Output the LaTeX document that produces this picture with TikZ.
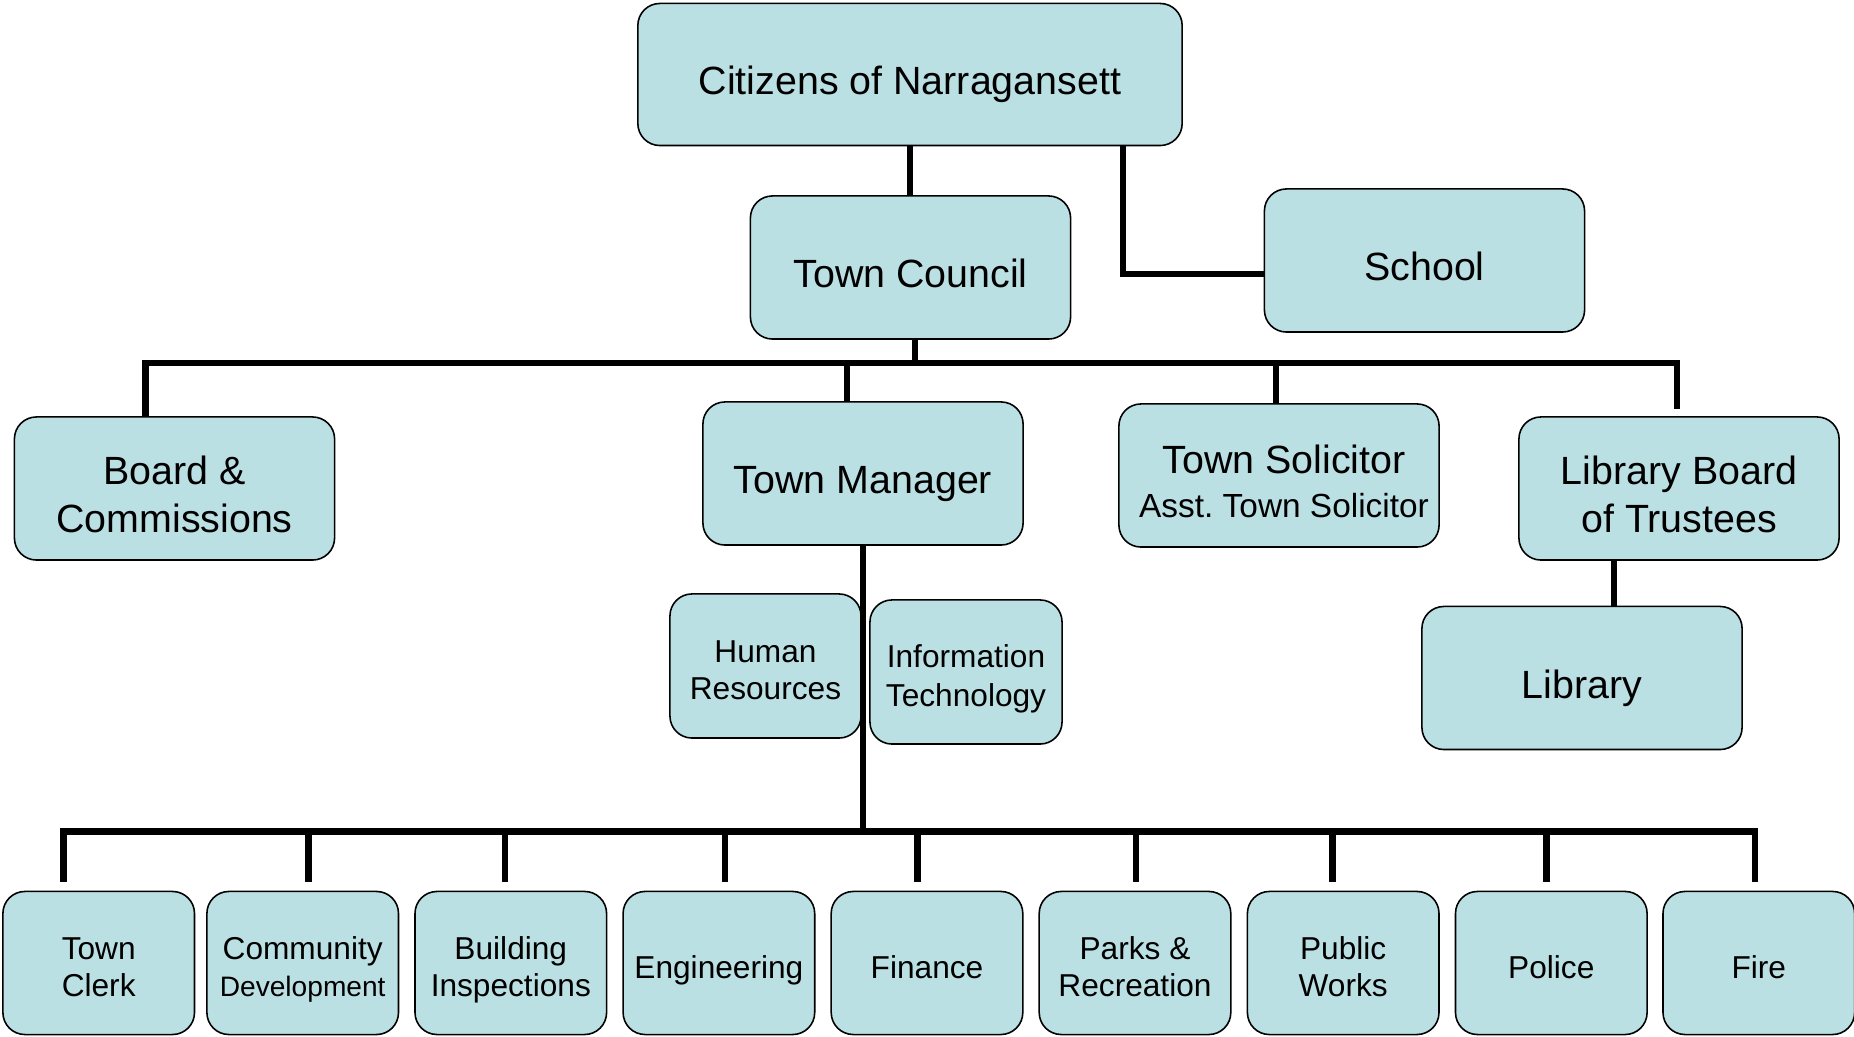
\documentclass[tikz,border=0pt]{standalone}
\usepackage{fontspec}
\setmainfont{Liberation Sans}
\usetikzlibrary{calc}

\definecolor{boxfill}{RGB}{187,224,227}

% struts: first and last line of a box text
\newcommand\topB{\rule{0pt}{13.9pt}}
\newcommand\botB{\rule[-2.5pt]{0pt}{2.5pt}}
\newcommand\topS{\rule{0pt}{10.6pt}}
\newcommand\botS{\rule[-2pt]{0pt}{2pt}}

\tikzset{
  unit/.style={draw, fill=boxfill, rounded corners=0.22cm, line width=0.45pt,
    align=center, inner sep=0pt},
  big/.style={unit, minimum width=3.2cm, minimum height=1.43cm,
    font=\fontsize{11.2}{13.7}\selectfont},
  dept/.style={unit, minimum width=1.915cm, minimum height=1.43cm,
    font=\fontsize{9}{10.6}\selectfont},
  link/.style={line width=0.065cm}
}

\begin{document}
\begin{tikzpicture}[x=0.01cm,y=-0.01cm]
  \useasboundingbox (0,0) rectangle (1854,1037);

  % top of the chart
  \node[big, minimum width=5.44cm, minimum height=1.42cm] (citizens) at (910,74.5) {\topB Citizens of Narragansett\botB};
  \node[big] (council) at (910.5,267.5) {\topB Town Council\botB};
  \node[big] (school) at (1424.5,260.5) {\topB School\botB};

  % second row
  \node[big] (boards) at (174.5,488.5) {\topB Board \&\\Commissions\botB};
  \node[big] (manager) at (863,473.5) {\topB Town Manager\botB};
  \node[big] (solicitor) at (1279,475.5) {\topB\hspace*{0.1cm}Town Solicitor\\[-1.3pt]{\fontsize{9.5}{12}\selectfont\hspace*{0.1cm}Asst.\ Town Solicitor}\botB};
  \node[big] (trustees) at (1679,488.5) {\topB Library Board\\of Trustees\botB};
  \node[big] (library) at (1582,678) {\topB Library\botB};

  % staff of the manager
  \node[dept, minimum width=1.91cm, minimum height=1.44cm] (hr) at (765.5,666) {\topS Human\\Resources\botS};
  \node[dept, minimum width=1.92cm, minimum height=1.44cm] (it) at (966,672) {\topS Information\\[0.4pt]Technology\botS};

  % departments
  \foreach \x/\name/\txt in {98.7/clerk/Town\\Clerk,
      302.7/community/Community\\{\fontsize{8}{10.6}\selectfont Development},
      510.8/building/Building\\Inspections, 718.9/engineering/Engineering,
      927/finance/Finance, 1135/parks/Parks \&\\Recreation,
      1343.2/works/Public\\Works, 1551.3/police/Police, 1758.8/fire/Fire}
    \node[dept] (\name) at (\x,963) {\topS\txt\botS};

  \coordinate (lowbus) at (0,832.5);

  % connectors
  \draw[link] (citizens.south) -- (citizens.south |- council.north);
  \draw[link] ($(citizens.south)+(213,0)$) |- ($(school.west)+(0,13.5)$);
  \draw[link] ($(council.south)+(4.5,0)$) -- ++(0,25);

  \draw[link] ($(boards.north)+(-29,0)$) -- ($(boards.north)+(-29,-53)$)
    -- ($(trustees.north)+(-2,-53)$) -- ($(trustees.north)+(-2,-7)$);
  \draw[link] ($(manager.north)+(-16,0)$) -- ++(0,-38);
  \draw[link] ($(solicitor.north)+(-3,0)$) -- ++(0,-40);
  \draw[link] ($(trustees.south)+(-65,0)$) -- ($(library.north)+(32,0)$);

  \draw[link] (manager.south) -- (manager.south |- lowbus);
  \draw[link] ($(clerk.north)+(-35,-9)$) -- ($(clerk.north)+(-35,-59)$)
    -- ($(fire.north)+(-4,-59)$) -- ($(fire.north)+(-4,-9)$);
  \foreach \name/\dx in {community/6, building/-6, engineering/6, finance/-9.5,
      parks/1, works/-10.6, police/-4.7}
    \draw[link] ($(\name.north)+(\dx,-9)$) -- ++(0,-50);

\end{tikzpicture}
\end{document}
